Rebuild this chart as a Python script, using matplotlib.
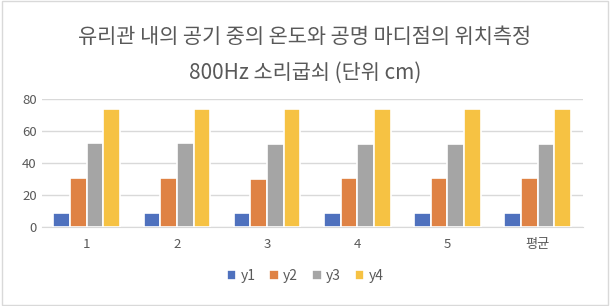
import matplotlib
matplotlib.use("Agg")
import matplotlib.pyplot as plt
import numpy as np

plt.rcParams['font.family'] = ['Noto Sans CJK KR', 'DejaVu Sans']

# === DATA ===
categories = ['1', '2', '3', '4', '5', '평균']
series_names = ['y1', 'y2', 'y3', 'y4']
y1 = [8.7, 9.0, 8.5, 8.7, 9.0, 8.8]
y2 = [30.5, 30.6, 30.2, 30.5, 30.6, 30.5]
y3 = [52.6, 52.3, 51.7, 52.1, 52.1, 52.1]
y4 = [74.0, 74.0, 74.0, 74.0, 74.0, 74.0]
colors = ['#4F71BE', '#DF8244', '#A5A5A5', '#F6C243']
title = "유리관 내의 공기 중의 온도와 공명 마디점의 위치측정\n800Hz 소리굽쇠 (단위 cm)"

# === PLOT ===
fig = plt.figure(figsize=(6.1, 3.06), dpi=100)
ax = fig.add_axes([41.7/610, 1 - 227/306, 541/610, 128/306])
ax.set_ylim(0, 80)

x = np.arange(len(categories))
step = 0.185
data = [y1, y2, y3, y4]
for i, (name, vals) in enumerate(zip(series_names, data)):
    ax.bar(x + (i - 1.5) * step, vals, width=step, color=colors[i],
           edgecolor='white', linewidth=1.2, label=name, zorder=3)

ax.set_xlim(-0.5, len(categories) - 0.5)
ax.set_xticks(x)
ax.set_xticklabels(categories)
ax.set_yticks([0, 20, 40, 60, 80])
ax.grid(axis='y', color='#D9D9D9', linewidth=1, zorder=0)
for s in ['top', 'right', 'left']:
    ax.spines[s].set_visible(False)
ax.spines['bottom'].set_color('#D9D9D9')
ax.tick_params(axis='both', length=0, colors='#595959', labelsize=9.5)
ax.tick_params(axis='x', pad=8)

fig.text(0.5, 1 - 55/306, title, ha='center', va='center', fontsize=15,
         color='#595959', linespacing=1.85)

fig.legend(loc='center', bbox_to_anchor=(0.5, 1 - 276/306), ncol=4,
           frameon=False, fontsize=10, handlelength=0.7, handleheight=0.7,
           handletextpad=0.3, columnspacing=1.0, labelcolor='#595959')

# outer frame
fig.patches.append(plt.Rectangle((0.003, 0.003), 0.994, 0.994, transform=fig.transFigure,
                                 fill=False, edgecolor='#D9D9D9', linewidth=1))

fig.savefig('out.png', dpi=100)
